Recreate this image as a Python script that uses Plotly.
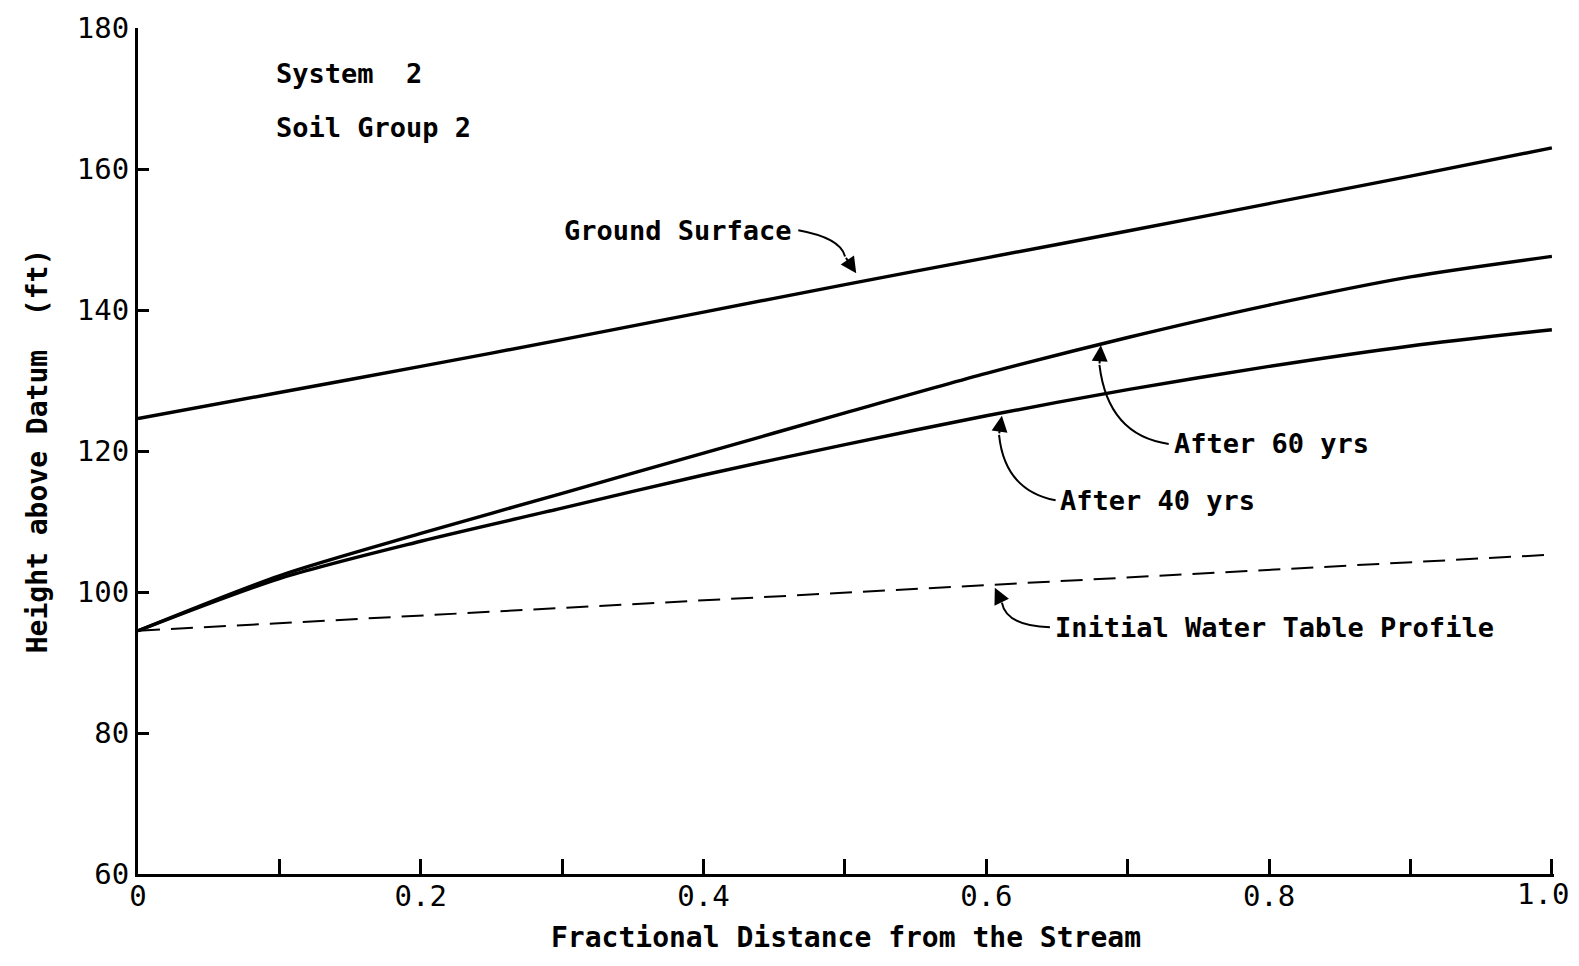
import plotly.graph_objects as go

# ---- data ----
x_frac = [0.0, 0.1, 0.2, 0.3, 0.4, 0.5, 0.6, 0.7, 0.8, 0.9, 1.0]
ground_surface = [124.6, 128.3, 132.0, 135.8, 139.7, 143.6, 147.4, 151.2, 155.1, 159.0, 163.0]
after_60 = [94.5, 102.3, 108.3, 114.0, 119.7, 125.4, 131.0, 136.1, 140.7, 144.7, 147.6]
after_40 = [94.5, 101.9, 107.2, 111.9, 116.6, 120.9, 125.0, 128.7, 132.0, 134.9, 137.2]
initial_wt_x = [0.0, 1.0]
initial_wt = [94.5, 105.3]

x_tickvals = [0.0, 0.1, 0.2, 0.3, 0.4, 0.5, 0.6, 0.7, 0.8, 0.9, 1.0]
x_ticktext = ["0", "", "0.2", "", "0.4", "", "0.6", "", "0.8", "", ""]
last_x_label = "1.0"
y_tickvals = [60, 80, 100, 120, 140, 160, 180]

FONT = "DejaVu Sans Mono"
BLACK = "#000000"
TXT = dict(family=FONT, size=27, color=BLACK, weight="bold")
TICKFONT = dict(family=FONT, size=29, color=BLACK)

fig = go.Figure()
for ys, name in [(ground_surface, "Ground Surface"), (after_60, "After 60 yrs"), (after_40, "After 40 yrs")]:
    fig.add_trace(go.Scatter(x=x_frac, y=ys, mode="lines", name=name,
                             line=dict(color=BLACK, width=3.4, shape="spline", smoothing=0.8)))
fig.add_trace(go.Scatter(x=initial_wt_x, y=initial_wt, mode="lines", name="Initial Water Table Profile",
                         line=dict(color=BLACK, width=2, dash="22px,11px")))

# labels with curved leader lines
labels = [
    # text, text x, text y, xanchor, leader start, control, tip, arrow base
    ("Ground Surface", 0.464, 151.3, "right", (0.467, 151.3), (0.497, 150.2), (0.508, 145.2), (0.500, 147.6)),
    ("After 60 yrs", 0.731, 121.0, "left", (0.729, 121.0), (0.686, 122.2), (0.681, 135.0), (0.680, 132.2)),
    ("After 40 yrs", 0.651, 113.0, "left", (0.649, 113.0), (0.613, 114.4), (0.611, 125.0), (0.609, 122.3)),
    ("Initial Water Table Profile", 0.647, 94.9, "left", (0.645, 95.0), (0.614, 95.2), (0.606, 100.6), (0.611, 98.5)),
]
for text, tx, ty, xa, s, c, t, b in labels:
    fig.add_annotation(x=tx, y=ty, text=text, showarrow=False, xanchor=xa, yanchor="middle", font=TXT)
    fig.add_shape(type="path", path=f"M {s[0]},{s[1]} Q {c[0]},{c[1]} {b[0]},{b[1]}",
                  xref="x", yref="y", line=dict(color=BLACK, width=2))
    fig.add_annotation(x=t[0], y=t[1], ax=b[0], ay=b[1], axref="x", ayref="y", xref="x", yref="y",
                       text="", showarrow=True, arrowhead=2, arrowsize=1.6, arrowwidth=2, arrowcolor=BLACK)

fig.add_annotation(x=0.096, y=173.6, text="System  2", showarrow=False, xanchor="left", font=TXT)
fig.add_annotation(x=0.096, y=165.9, text="Soil Group 2", showarrow=False, xanchor="left", font=TXT)

# last x tick label, kept inside the page edge
fig.add_annotation(x=1.0, xref="x", y=0, yref="paper", text=last_x_label, showarrow=False,
                   xanchor="right", yanchor="middle", xshift=19, yshift=-20, font=TICKFONT)

# page body has an 8px margin: figure is sized so the plot area lands where the reference has it
fig.update_layout(
    width=1571, height=950,
    margin=dict(l=130, r=25, t=20, b=84, autoexpand=False),
    paper_bgcolor="white", plot_bgcolor="white",
    showlegend=False,
    font=dict(family=FONT, color=BLACK),
    xaxis=dict(range=[0, 1.0015], tickvals=x_tickvals, ticktext=x_ticktext, automargin=False,
               showgrid=False, zeroline=False, showline=True, linecolor=BLACK, linewidth=3,
               ticks="inside", ticklen=15, tickwidth=2.5, tickcolor=BLACK,
               ticklabelstandoff=-6,
               tickfont=TICKFONT,
               title=dict(text="Fractional Distance from the Stream", standoff=16,
                          font=dict(family=FONT, size=28, color=BLACK, weight="bold"))),
    yaxis=dict(range=[60, 180], tickvals=y_tickvals, automargin=False,
               showgrid=False, zeroline=False, showline=True, linecolor=BLACK, linewidth=3,
               ticks="inside", ticklen=11, tickwidth=2.5, tickcolor=BLACK,
               ticklabeloverflow="allow",
               tickfont=TICKFONT,
               title=dict(text="Height above Datum  (ft)", standoff=22,
                          font=dict(family=FONT, size=28, color=BLACK, weight="bold"))),
)

fig.write_html("out.html")
